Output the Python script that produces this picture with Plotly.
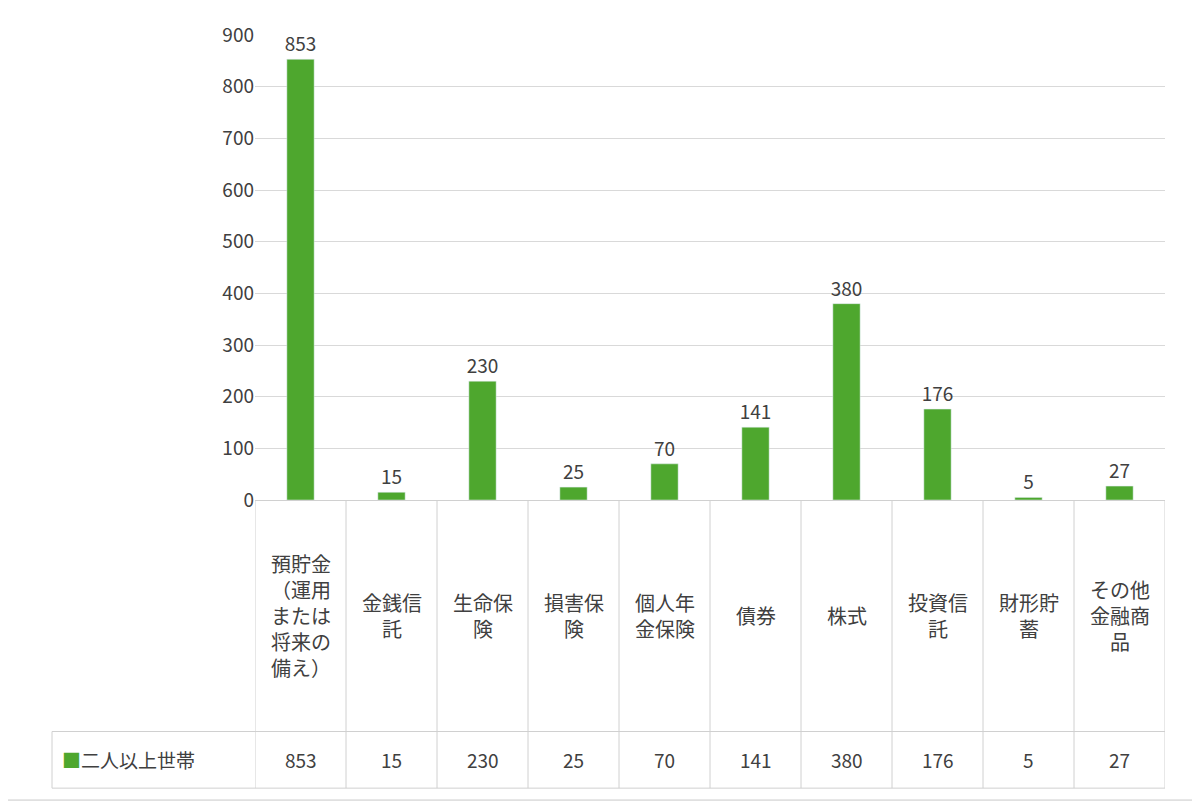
import plotly.graph_objects as go

# chart data
categories = ["預貯金（運用または将来の備え）", "金銭信託", "生命保険", "損害保険", "個人年金保険",
              "債券", "株式", "投資信託", "財形貯蓄", "その他金融商品"]
wrapped_labels = ["預貯金<br>（運用<br>または<br>将来の<br>備え）", "金銭信<br>託", "生命保<br>険", "損害保<br>険",
                  "個人年<br>金保険", "債券", "株式", "投資信<br>託", "財形貯<br>蓄", "その他<br>金融商<br>品"]
values = [853, 15, 230, 25, 70, 141, 380, 176, 5, 27]
series_name = "二人以上世帯"

green = "#4ea72e"
font = "Noto Sans CJK JP, sans-serif"
line_col = "#d0d0d0"

# page has ~8px body offset, so lay out in target pixels minus that
OFF = 8
L, R, T, B = 255 - OFF, 1165 - OFF, 32 - OFF, 500 - OFF

def px_x(p):
    return (p - OFF - L) / (R - L)

def px_y(p):
    return (B - (p - OFF)) / (B - T)

fig = go.Figure()
fig.add_trace(go.Bar(
    x=list(range(len(values))), y=values, marker_color=green, width=0.3,
    text=values, textposition="outside", constraintext="none",
    textfont=dict(size=19, color="#404040"),
    cliponaxis=False, name=series_name,
))

shapes = []
shapes.append(dict(type="rect", xref="paper", yref="paper", x0=px_x(2), x1=px_x(1197),
                   y0=px_y(802), y1=px_y(2), line=dict(color="#c8c8c8", width=1)))
for i in range(len(values) + 1):
    shapes.append(dict(type="line", xref="x", yref="paper", x0=i - 0.5, x1=i - 0.5,
                       y0=px_y(790), y1=0, line=dict(color=line_col, width=1)))
for yp in (733, 790):
    shapes.append(dict(type="line", xref="paper", yref="paper", x0=px_x(52), x1=1,
                       y0=px_y(yp), y1=px_y(yp), line=dict(color=line_col, width=1)))
shapes.append(dict(type="line", xref="paper", yref="paper", x0=px_x(52), x1=px_x(52),
                   y0=px_y(790), y1=px_y(733), line=dict(color=line_col, width=1)))

annotations = []
for i, (lab, v) in enumerate(zip(wrapped_labels, values)):
    annotations.append(dict(x=i, xref="x", y=px_y(616), yref="paper", text=lab, showarrow=False,
                            font=dict(size=20, color="#404040", family=font), align="center",
                            yanchor="middle"))
    annotations.append(dict(x=i, xref="x", y=px_y(761), yref="paper", text=str(v), showarrow=False,
                            font=dict(size=19, color="#404040", family=font), yanchor="middle"))
annotations.append(dict(x=px_x(60), xref="paper", y=px_y(761), yref="paper", xanchor="left",
                        text=f"<span style='color:{green}'>■</span>{series_name}", showarrow=False,
                        font=dict(size=19, color="#404040", family=font), yanchor="middle"))

fig.update_layout(
    width=1200, height=805, margin=dict(l=L, r=1200 - R, t=T, b=805 - B),
    plot_bgcolor="white", paper_bgcolor="white", showlegend=False,
    font=dict(family=font, size=18, color="#404040"),
    xaxis=dict(range=[-0.5, 9.5], showticklabels=False, showgrid=False, zeroline=False,
               showline=True, linecolor=line_col),
    yaxis=dict(range=[0, 900], dtick=100, gridcolor="#d9d9d9", zeroline=False,
               tickfont=dict(size=19), ticks="", ticklen=0),
    shapes=shapes, annotations=annotations,
)

fig.write_html("out.html")
